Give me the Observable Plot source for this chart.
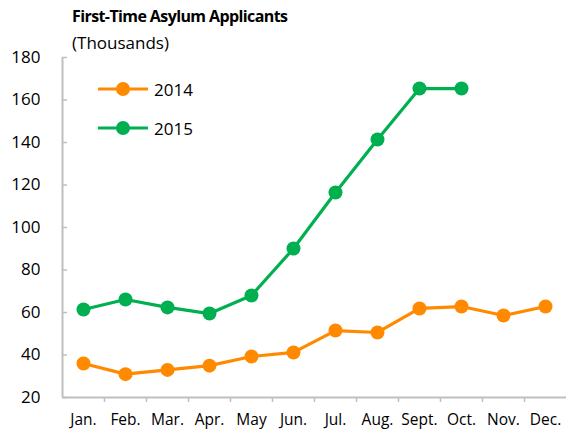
<!DOCTYPE html>
<html><head><meta charset="utf-8">
<script src="https://cdn.jsdelivr.net/npm/d3@7"></script>
<script src="https://cdn.jsdelivr.net/npm/@observablehq/plot@0.6"></script>
<style>
body{margin:0;background:#fff;}
#wrap{position:relative;width:566px;height:434px;font-family:"Open Sans",sans-serif;color:#000;}
#title{position:absolute;left:72px;top:5px;font-weight:700;font-size:16px;letter-spacing:-0.6px;white-space:nowrap;}
#subtitle{position:absolute;left:72px;top:31px;font-size:17px;white-space:nowrap;}
#legend{position:absolute;left:98px;top:76px;font-size:17px;}
.li{display:flex;align-items:center;height:26px;margin-bottom:13px;}
.li span{margin-left:6px;}
#chart{position:absolute;left:0;top:0;}
</style></head>
<body>
<div id="wrap">
  <div id="chart"></div>
  <div id="title">First-Time Asylum Applicants</div>
  <div id="subtitle">(Thousands)</div>
  <div id="legend"></div>
</div>
<script>
const months = ["Jan.","Feb.","Mar.","Apr.","May","Jun.","Jul.","Aug.","Sept.","Oct.","Nov.","Dec."];
const series = ["2014","2015"];
const values2014 = [36,31,33,35,39.3,41.2,51.5,50.6,61.9,62.8,58.6,62.8];
const values2015 = [61.4,66.1,62.4,59.5,68,90.1,116.5,141.4,165.4,165.4];
const yTicks = [20,40,60,80,100,120,140,160,180];
const colors = ["#ff8a00","#00b050"];
const axisColor = "#bfbfbf";

const rows = [
  ...values2014.map((v,i)=>({month:months[i], value:v, year:series[0]})),
  ...values2015.map((v,i)=>({month:months[i], value:v, year:series[1]}))
];

const W = 566, H = 434, mL = 62, mR = 0, mT = 57, mB = 37;
const half = (W - mL - mR) / months.length / 2;

const chart = Plot.plot({
  width: W, height: H,
  marginTop: mT, marginBottom: mB, marginLeft: mL, marginRight: mR,
  style: {fontFamily: '"Open Sans", sans-serif', color: "#000", background: "transparent"},
  x: {type: "point", domain: months, padding: 0.5, label: null},
  y: {domain: [20,180], label: null},
  color: {domain: series, range: colors},
  marks: [
    Plot.axisY({ticks: yTicks, tickSize: 0, tickPadding: 22, fontSize: 17, label: null}),
    Plot.axisY({ticks: yTicks, tickSize: 5, dx: 5, tickFormat: () => "", stroke: axisColor, strokeWidth: 1.5, label: null}),
    Plot.axisX({tickSize: 0, tickPadding: 16, fontSize: 15.5, label: null}),
    Plot.axisX({ticks: months.slice(0,11), tickSize: 5, dx: half, tickFormat: () => "", stroke: axisColor, strokeWidth: 1.5, label: null}),
    Plot.ruleY([20], {stroke: axisColor, strokeWidth: 2}),
    Plot.ruleX([months[0]], {dx: -half, stroke: axisColor, strokeWidth: 2}),
    Plot.line(rows, {x: "month", y: "value", z: "year", stroke: "year", strokeWidth: 3.2}),
    Plot.dot(rows, {x: "month", y: "value", fill: "year", r: 7})
  ]
});
document.getElementById("chart").appendChild(chart);

const legend = document.getElementById("legend");
series.forEach((s,i)=>{
  const d = document.createElement("div");
  d.className = "li";
  d.innerHTML = `<svg width="50" height="16"><line x1="1" x2="49" y1="8" y2="8" stroke="${colors[i]}" stroke-width="3.2" stroke-linecap="round"/><circle cx="25" cy="8" r="7" fill="${colors[i]}"/></svg><span>${s}</span>`;
  legend.appendChild(d);
});
</script>
</body></html>
